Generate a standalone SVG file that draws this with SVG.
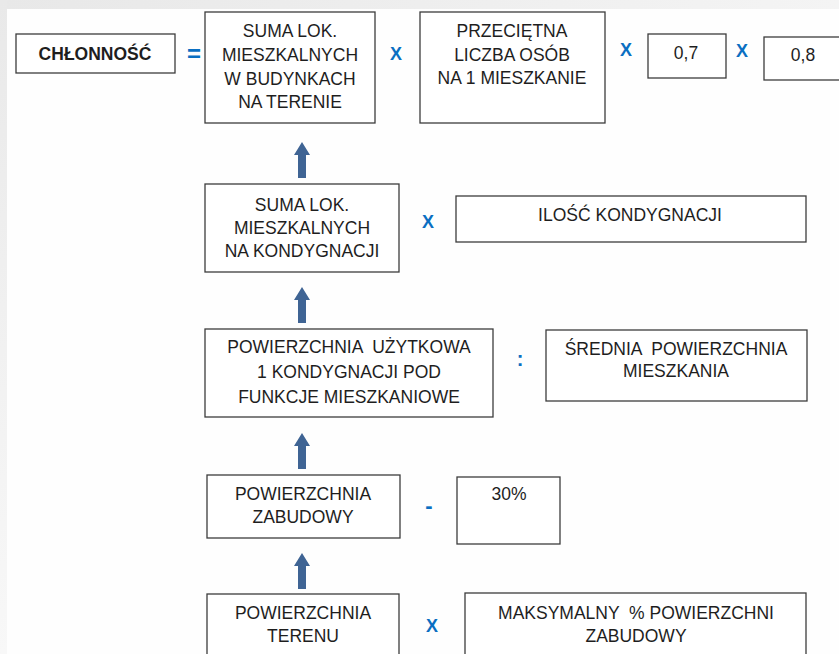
<svg xmlns="http://www.w3.org/2000/svg" xmlns:xlink="http://www.w3.org/1999/xlink" width="839" height="654" viewBox="0 0 839 654">
<style>
.box{fill:#ffffff;stroke:#3c3c3c;stroke-width:1.3}
.t{font-family:"Liberation Sans",Arial,sans-serif;font-size:17.5px;fill:#1e1e1e;text-anchor:middle}
.b{font-weight:bold}
.op{font-family:"Liberation Sans",Arial,sans-serif;font-weight:bold;fill:#0a6fc2;text-anchor:middle}
.arr{fill:#3f6494}
</style>
<defs>
<linearGradient id="gTop" x1="0" y1="0" x2="1" y2="0">
<stop offset="0" stop-color="#e8e8e8"/><stop offset="1" stop-color="#f4f4f4"/>
</linearGradient>
<linearGradient id="gLeft" x1="0" y1="0" x2="0" y2="1">
<stop offset="0" stop-color="#e9e9e9"/><stop offset="1" stop-color="#f8f8f8"/>
</linearGradient>
<path id="upArrow" d="M0,0 L8,13 L4,13 L4,36 L-4,36 L-4,13 L-8,13 Z"/>
</defs>
<rect x="0" y="0" width="839" height="654" fill="#fefefe"/>
<rect x="0" y="0" width="839" height="9" fill="url(#gTop)"/>
<rect x="0" y="0" width="7" height="654" fill="url(#gLeft)"/>

<g id="connectors" class="arr">
<use xlink:href="#upArrow" x="302" y="142"/>
<use xlink:href="#upArrow" x="302" y="287"/>
<use xlink:href="#upArrow" x="302" y="433"/>
<use xlink:href="#upArrow" x="302" y="553"/>
</g>

<g id="operators">
<text class="op" x="194" y="62" font-size="24">=</text>
<text class="op" x="396" y="60" font-size="18">X</text>
<text class="op" x="626" y="56" font-size="18">X</text>
<text class="op" x="742" y="57" font-size="18">X</text>
<text class="op" x="428" y="228" font-size="18">X</text>
<text class="op" x="520" y="366" font-size="20">:</text>
<text class="op" x="429" y="513" font-size="22">-</text>
<text class="op" x="432" y="632" font-size="18">X</text>
</g>

<g id="chlonnosc">
<rect class="box" x="16" y="34" width="159" height="39"/>
<text class="t b" x="95" y="60">CHŁONNOŚĆ</text>
</g>

<g id="suma-budynki">
<rect class="box" x="205" y="12" width="170" height="111"/>
<text class="t" x="290" y="37">SUMA LOK.</text>
<text class="t" x="290" y="61">MIESZKALNYCH</text>
<text class="t" x="290" y="85">W BUDYNKACH</text>
<text class="t" x="290" y="108">NA TERENIE</text>
</g>

<g id="przecietna">
<rect class="box" x="420" y="12" width="185" height="111"/>
<text class="t" x="512" y="37">PRZECIĘTNA</text>
<text class="t" x="512" y="61">LICZBA OSÓB</text>
<text class="t" x="512" y="84">NA 1 MIESZKANIE</text>
</g>

<g id="wsp07">
<rect class="box" x="648" y="34" width="78" height="44"/>
<text class="t" x="686" y="59">0,7</text>
</g>

<g id="wsp08">
<rect class="box" x="764" y="37" width="90" height="43"/>
<text class="t" x="803" y="61">0,8</text>
</g>

<g id="suma-kondygnacja">
<rect class="box" x="205" y="184" width="194" height="88"/>
<text class="t" x="302" y="211">SUMA LOK.</text>
<text class="t" x="302" y="234">MIESZKALNYCH</text>
<text class="t" x="302" y="257">NA KONDYGNACJI</text>
</g>

<g id="ilosc-kondygnacji">
<rect class="box" x="456" y="196" width="350" height="46"/>
<text class="t" x="630" y="221">ILOŚĆ KONDYGNACJI</text>
</g>

<g id="pow-uzytkowa">
<rect class="box" x="205" y="329" width="288" height="88"/>
<text class="t" x="349" y="353" xml:space="preserve">POWIERZCHNIA  UŻYTKOWA</text>
<text class="t" x="349" y="378">1 KONDYGNACJI POD</text>
<text class="t" x="349" y="403">FUNKCJE MIESZKANIOWE</text>
</g>

<g id="srednia-pow">
<rect class="box" x="546" y="330" width="261" height="71"/>
<text class="t" x="676" y="355" xml:space="preserve">ŚREDNIA  POWIERZCHNIA</text>
<text class="t" x="676" y="377">MIESZKANIA</text>
</g>

<g id="pow-zabudowy">
<rect class="box" x="207" y="475" width="193" height="63"/>
<text class="t" x="303" y="500">POWIERZCHNIA</text>
<text class="t" x="303" y="523">ZABUDOWY</text>
</g>

<g id="procent30">
<rect class="box" x="457" y="477" width="103" height="67"/>
<text class="t" x="509" y="500">30%</text>
</g>

<g id="pow-terenu">
<rect class="box" x="207" y="594" width="192" height="80"/>
<text class="t" x="303" y="619">POWIERZCHNIA</text>
<text class="t" x="303" y="642">TERENU</text>
</g>

<g id="max-procent">
<rect class="box" x="465" y="593" width="341" height="80"/>
<text class="t" x="636" y="619" xml:space="preserve">MAKSYMALNY  % POWIERZCHNI</text>
<text class="t" x="636" y="642">ZABUDOWY</text>
</g>
</svg>
